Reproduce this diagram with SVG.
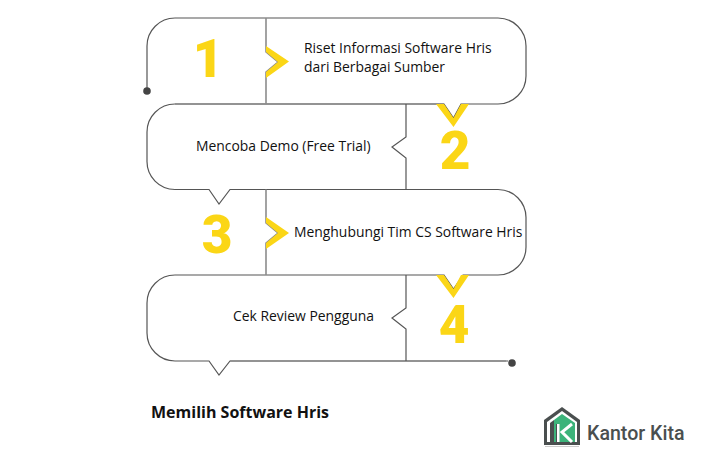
<svg xmlns="http://www.w3.org/2000/svg" width="706" height="464" viewBox="0 0 706 464">
<style>
.ln{fill:none;stroke:#555;stroke-width:1.2}
.gl{fill:none;stroke:#8c8c8c;stroke-width:1.6}
.y{fill:#fbd616}
.d{fill:#444}
.t{font-family:"Open Sans",sans-serif;font-size:13.900px;fill:#111}
.n{font-family:Roboto,sans-serif;font-weight:900;font-size:53px;fill:#fbd616;text-anchor:middle}
</style>
<rect width="706" height="464" fill="#fff"/>
<g id="connectors">
<path class="ln" d="M147 91V46A28 28 0 0 1 175 18H498A28 28 0 0 1 526 46V76A28 28 0 0 1 498 104H461L453.500 118L444 104H175A28 28 0 0 0 147 132V161A28 28 0 0 0 175 189.500H209L219 204L230 189.500H498A28 28 0 0 1 526 217.500V247A28 28 0 0 1 498 275H463L453.500 289L444 275H175A28 28 0 0 0 147 303V333A28 28 0 0 0 175 361H209L219 375L230 361H508"/>
<path class="gl" d="M175 104H444M230 361H506"/>
<path class="gl" d="M266 18V52L278 62L266 72V104"/>
<path class="ln" d="M406 104V137L392 147L406 158V189.500"/>
<path class="gl" d="M266 189.500V223L278 233L266 243V275"/>
<path class="ln" d="M406 275V308L392 318L406 329V361"/>
<circle class="d" cx="147" cy="91" r="3.800"/>
<circle class="d" cx="512" cy="363" r="3.800"/>
</g>
<g id="step1">
<polygon class="y" points="266,46 289,61.500 266,78 266,72 278,62 266,52"/>
<text class="n" x="208" y="77">1</text>
<text class="t" x="304" y="53">Riset Informasi Software Hris</text>
<text class="t" x="304" y="72">dari Berbagai Sumber</text>
</g>
<g id="step2">
<polygon class="y" points="436,104 444,104 453.500,118 461,104 469,104 453.500,127"/>
<text class="n" x="455" y="169">2</text>
<text class="t" x="196" y="151">Mencoba Demo (Free Trial)</text>
</g>
<g id="step3">
<polygon class="y" points="266,217 289,233 266,249 266,243 278,233 266,223"/>
<text class="n" x="217" y="253">3</text>
<text class="t" x="294" y="237">Menghubungi Tim CS Software Hris</text>
</g>
<g id="step4">
<polygon class="y" points="436,275 444,275 453.500,289 461,275 469,275 453.500,298"/>
<text class="n" x="454" y="343">4</text>
<text class="t" x="233" y="321">Cek Review Pengguna</text>
</g>
<text id="title" x="151" y="418" font-family="'Open Sans',sans-serif" font-weight="700" font-size="16" fill="#111">Memilih Software Hris</text>
<g id="logo">
<polygon points="562,407 580,420 580,445 544,445 544,420" fill="#4a4f4f"/>
<polygon points="562,411 577,422 577,442 547,442 547,422" fill="#fff"/>
<polygon points="562,414 575,423 575,442 554,442 554,420" fill="#3cb37a"/>
<polygon points="550,423 554,420 554,442 550,442" fill="#4a4f4f"/>
<path d="M558 424V442M572 424L562 432L572 442" fill="none" stroke="#fff" stroke-width="3"/>
<path d="M556.500 424V442" stroke="#4a4f4f" stroke-width="1" fill="none"/>
<rect x="545" y="446" width="34" height="1" fill="#ccc"/>
<text x="587" y="440" font-family="Roboto,sans-serif" font-weight="500" font-size="19.600" fill="#4a4f4f">Kantor Kita</text>
</g>
</svg>
